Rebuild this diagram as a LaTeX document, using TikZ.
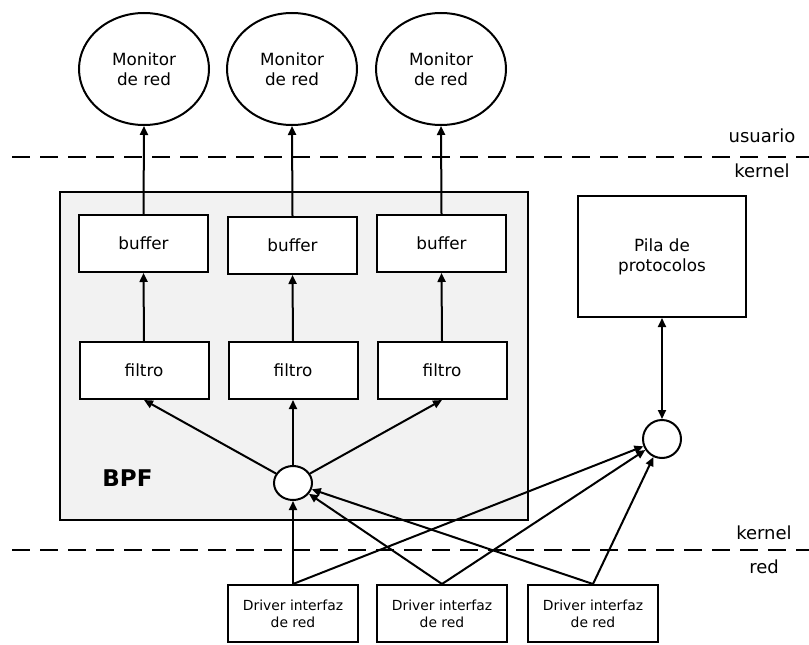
\documentclass[tikz,border=0pt]{standalone}
\usepackage{fontspec}
\setmainfont{DejaVu Sans}
\usetikzlibrary{shapes.geometric,arrows.meta}
\definecolor{bpfgray}{HTML}{F2F2F2}
\tikzset{
  lw/.style={line width=2pt},
  mainfont/.style={font=\fontsize{16.8}{20}\selectfont},
  monitor/.style={ellipse,draw,lw,fill=white,minimum width=130pt,minimum height=112pt,inner sep=0pt,align=center,mainfont},
  boxnode/.style={rectangle,draw,lw,fill=white,minimum width=129pt,minimum height=57pt,inner sep=0pt,align=center,mainfont},
  drvbox/.style={rectangle,draw,lw,fill=white,minimum width=130pt,minimum height=57pt,inner sep=0pt,align=center,font=\fontsize{13.9}{16.7}\selectfont},
  junction/.style={ellipse,draw,lw,fill=white,inner sep=0pt},
  arr/.style={lw,-{Triangle[length=9pt,width=8pt]}},
  darr/.style={lw,{Triangle[length=9pt,width=8pt]}-{Triangle[length=9pt,width=8pt]}},
  layerline/.style={lw,dash pattern=on 18pt off 10pt},
  layerlabel/.style={font=\fontsize{18}{20}\selectfont,inner sep=0pt}
}
\begin{document}
\begin{tikzpicture}[x=1pt,y=-1pt]
\useasboundingbox (0,0) rectangle (809,645);
% BPF background box
\draw[lw,fill=bpfgray] (60,192) rectangle (528,520);
\node[font=\fontsize{23}{25}\selectfont\bfseries,inner sep=0pt] (bpf) at (127.5,478) {BPF};
% layer lines
\coordinate (l1a) at (12,157);
\coordinate (l1b) at (809,157);
\coordinate (l2a) at (12,550);
\coordinate (l2b) at (809,550);
\draw[layerline] (l1a) -- (l1b);
\draw[layerline] (l2a) -- (l2b);
\node[layerlabel] (usr) at (762,136) {usuario};
\node[layerlabel] (ker1) at (762,171) {kernel};
\node[layerlabel] (ker2) at (764,533) {kernel};
\node[layerlabel] (red) at (764,567) {red};
% monitors
\node[monitor] (m1) at (144,69) {Monitor\\de red};
\node[monitor] (m2) at (292,69) {Monitor\\de red};
\node[monitor] (m3) at (441,69) {Monitor\\de red};
% buffers
\node[boxnode] (b1) at (143.5,243.5) {buffer};
\node[boxnode] (b2) at (292.5,245.5) {buffer};
\node[boxnode] (b3) at (441.5,243.5) {buffer};
% filters
\node[boxnode] (f1) at (144,370.5) {filtro};
\node[boxnode] (f2) at (293,370.5) {filtro};
\node[boxnode] (f3) at (442,370.5) {filtro};
% junctions
\node[junction,minimum width=38pt,minimum height=34pt] (c1) at (293,483) {};
\node[junction,minimum width=38pt,minimum height=38pt] (c2) at (662,439) {};
% protocol stack
\node[rectangle,draw,lw,fill=white,minimum width=168pt,minimum height=121pt,inner sep=0pt,align=center,mainfont] (p) at (662,256.5) {Pila de\\protocolos};
% drivers
\node[drvbox] (d1) at (293,613.5) {Driver interfaz\\de red};
\node[drvbox] (d2) at (442,613.5) {Driver interfaz\\de red};
\node[drvbox] (d3) at (593,613.5) {Driver interfaz\\de red};
% connectors
\draw[arr] (b1.north) -- (m1.south);
\draw[arr] (b2.north) -- (m2.south);
\draw[arr] (b3.north) -- (m3.south);
\draw[arr] (f1.north) -- (b1.south);
\draw[arr] (f2.north) -- (b2.south);
\draw[arr] (f3.north) -- (b3.south);
\draw[arr] (c1) -- (f1.south);
\draw[arr] (c1) -- (f2.south);
\draw[arr] (c1) -- (f3.south);
\draw[arr] (d1.north) -- (c1);
\draw[arr] (d2.north) -- (c1);
\draw[arr] (d3.north) -- (c1);
\draw[arr] (d1.north) -- (c2);
\draw[arr] (d2.north) -- (c2);
\draw[arr] (d3.north) -- (c2);
\draw[darr] (p.south) -- (c2.north);
\end{tikzpicture}
\end{document}
